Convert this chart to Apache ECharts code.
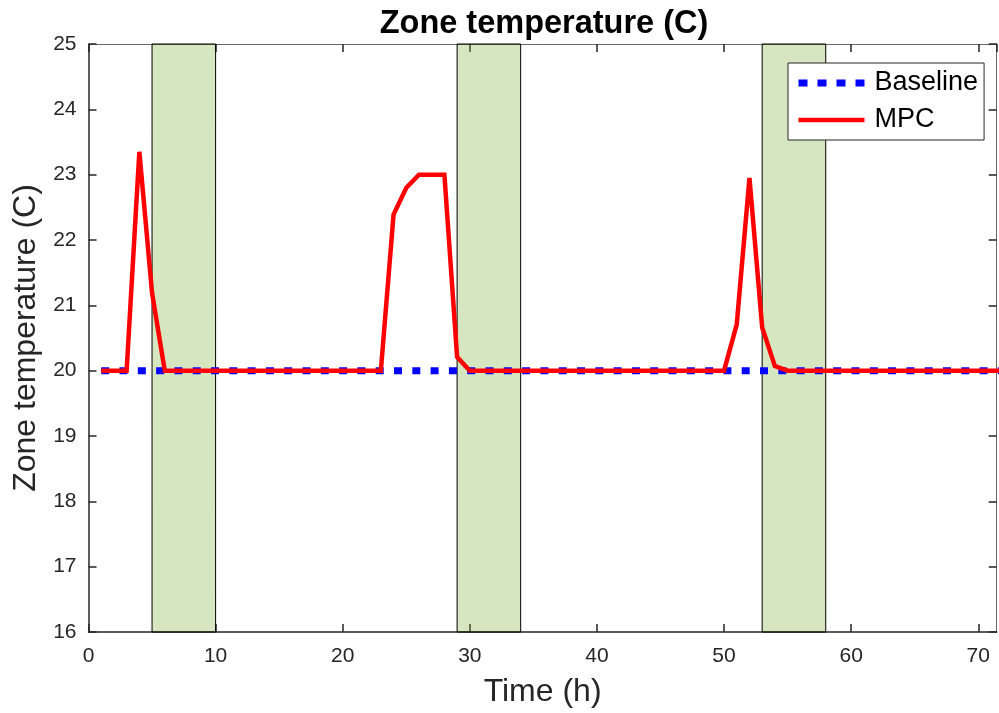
<!DOCTYPE html>
<html>
<head>
<meta charset="utf-8">
<script src="https://cdn.jsdelivr.net/npm/echarts@6/dist/echarts.min.js"></script>
<style>html,body{margin:0;padding:0;background:#fff;}#c{width:999px;height:713px;}</style>
</head>
<body>
<div id="c"></div>
<script>
var hours = [1,2,3,4,5,6,7,8,9,10,11,12,13,14,15,16,17,18,19,20,21,22,23,24,25,26,27,28,29,30,31,32,33,34,35,36,37,38,39,40,41,42,43,44,45,46,47,48,49,50,51,52,53,54,55,56,57,58,59,60,61,62,63,64,65,66,67,68,69,70,71,72];
var baseline = [20,20,20,20,20,20,20,20,20,20,20,20,20,20,20,20,20,20,20,20,20,20,20,20,20,20,20,20,20,20,20,20,20,20,20,20,20,20,20,20,20,20,20,20,20,20,20,20,20,20,20,20,20,20,20,20,20,20,20,20,20,20,20,20,20,20,20,20,20,20,20,20];
var mpc = [20,20,20,23.35,21.19,20,20,20,20,20,20,20,20,20,20,20,20,20,20,20,20,20,20,22.39,22.80,23.0,23.0,23.0,20.21,20,20,20,20,20,20,20,20,20,20,20,20,20,20,20,20,20,20,20,20,20,20.71,22.95,20.66,20.07,20,20,20,20,20,20,20,20,20,20,20,20,20,20,20,20,20,20];
var bands = [[5,10],[29,34],[53,58]];
var xTicks = [0,10,20,30,40,50,60,70];
var yTicks = [16,17,18,19,20,21,22,23,24,25];

function pairs(xs, ys){ return xs.map(function(x,i){ return [x, ys[i]]; }); }

var font = "'Liberation Sans', Arial, Helvetica, sans-serif";
var chart = echarts.init(document.getElementById('c'), null, {renderer:'canvas'});
var xMin = 0, xMax = 71.45, yMin = yTicks[0], yMax = yTicks[yTicks.length-1];

chart.setOption({
  animation: false,
  backgroundColor: '#ffffff',
  title: {
    text: 'Zone temperature (C)',
    left: 539, textAlign: 'center', top: 3,
    textStyle: {fontFamily: font, fontSize: 32.5, fontWeight: 'bold', color: '#000'}
  },
  legend: {
    orient: 'vertical',
    left: 788, top: 63,
    padding: [6.5, 6, 6.5, 7],
    itemWidth: 66, itemHeight: 27, itemGap: 10,
    backgroundColor: '#fff',
    borderColor: '#262626', borderWidth: 1, borderRadius: 0,
    textStyle: {fontFamily: font, fontSize: 27, color: '#000', padding: [0,0,0,5]},
    data: [
      {name: 'Baseline', itemStyle: {opacity: 0}, lineStyle: {color: '#0000ff', width: 7, type: [9, 10], cap: 'butt'}},
      {name: 'MPC', itemStyle: {opacity: 0}, lineStyle: {color: '#ff0000', width: 4.5}}
    ]
  },
  grid: {left: 88.5, right: 2.3, top: 44, bottom: 79.7, containLabel: false},
  xAxis: [{
    type: 'value', min: xMin, max: xMax, interval: 10,
    name: 'Time (h)', nameLocation: 'middle', nameGap: 44,
    nameTextStyle: {fontFamily: font, fontSize: 32, color: '#262626'},
    axisLine: {show: true, onZero: false, lineStyle: {color: '#262626', width: 1.5}},
    axisTick: {show: true, inside: true, length: 8, lineStyle: {color: '#262626', width: 1.5}},
    axisLabel: {fontFamily: font, fontSize: 21, color: '#262626', margin: 14, showMaxLabel: false,
      formatter: function(v){ return xTicks.indexOf(v) >= 0 ? String(v) : ''; }},
    splitLine: {show: false}
  },{
    type: 'value', min: xMin, max: xMax, interval: 10, position: 'top',
    axisLine: {show: true, onZero: false, lineStyle: {color: '#666', width: 1}},
    axisTick: {show: true, inside: true, length: 8, lineStyle: {color: '#262626', width: 1.5}},
    axisLabel: {show: false}, splitLine: {show: false}
  }],
  yAxis: [{
    type: 'value', min: yMin, max: yMax, interval: 1, position: 'left',
    name: 'Zone temperature (C)', nameLocation: 'middle', nameGap: 46,
    nameTextStyle: {fontFamily: font, fontSize: 32, color: '#262626'},
    axisLine: {show: true, onZero: false, lineStyle: {color: '#262626', width: 1.5}},
    axisTick: {show: true, inside: true, length: 8, lineStyle: {color: '#262626', width: 1.5}},
    axisLabel: {fontFamily: font, fontSize: 21, color: '#262626', margin: 12},
    splitLine: {show: false}
  },{
    type: 'value', min: yMin, max: yMax, interval: 1, position: 'right',
    axisLine: {show: true, onZero: false, lineStyle: {color: '#666', width: 1}},
    axisTick: {show: true, inside: true, length: 8, lineStyle: {color: '#262626', width: 1.5}},
    axisLabel: {show: false}, splitLine: {show: false}
  }],
  series: [{
    name: 'Baseline', type: 'line', xAxisIndex: 0, yAxisIndex: 0,
    data: pairs(hours, baseline), symbol: 'none', showSymbol: false, z: 2,
    lineStyle: {color: '#0000ff', width: 7, type: [8, 10.3], cap: 'butt'},
    itemStyle: {color: '#0000ff'}
  },{
    name: 'MPC', type: 'line', xAxisIndex: 0, yAxisIndex: 0,
    data: pairs(hours, mpc), symbol: 'none', showSymbol: false, z: 3,
    lineStyle: {color: '#ff0000', width: 4.5, join: 'miter'},
    itemStyle: {color: '#ff0000'}
  },{
    name: 'bands', type: 'line', xAxisIndex: 0, yAxisIndex: 0,
    data: [], symbol: 'none', z: 10, silent: true,
    markArea: {
      silent: true,
      itemStyle: {color: 'rgba(119,172,48,0.3)', borderColor: '#000', borderWidth: 1},
      data: bands.map(function(b){ return [{xAxis: b[0], yAxis: yMin}, {xAxis: b[1], yAxis: yMax}]; })
    }
  }]
});
</script>
</body>
</html>
